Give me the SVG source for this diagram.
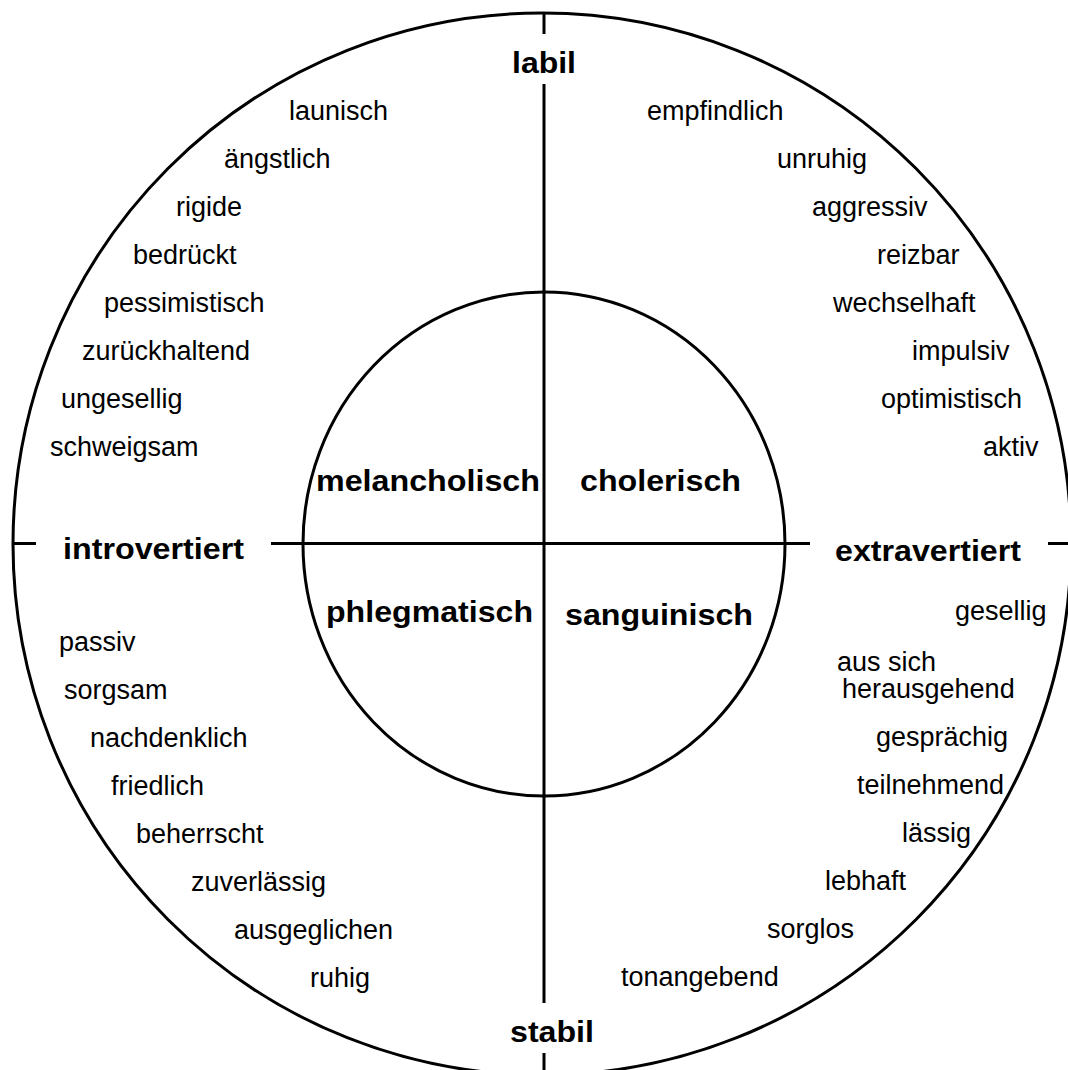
<svg xmlns="http://www.w3.org/2000/svg" width="1068" height="1070" viewBox="0 0 1068 1070">
  <style>
    .ring { fill: none; stroke: #000; stroke-width: 3; }
    .axis { stroke: #000; stroke-width: 3; fill: none; }
    .trait { font-family: "Liberation Sans", Arial, sans-serif; font-size: 27px; fill: #000; }
    .pole { font-family: "Liberation Sans", Arial, sans-serif; font-size: 30px; font-weight: bold; fill: #000; }
    .temper { font-family: "Liberation Sans", Arial, sans-serif; font-size: 30px; font-weight: bold; fill: #000; }
  </style>
  <rect width="1068" height="1070" fill="#fff"/>

  <!-- outer and inner rings -->
  <g id="rings">
    <ellipse class="ring" cx="542" cy="544" rx="529" ry="531"/>
    <ellipse class="ring" cx="544" cy="544" rx="241" ry="252"/>
  </g>

  <!-- axes, broken where the pole labels sit -->
  <g id="connectors">
    <line class="axis" x1="544" y1="13" x2="544" y2="34"/>
    <line class="axis" x1="544" y1="84" x2="544" y2="1003"/>
    <line class="axis" x1="544" y1="1053" x2="544" y2="1070"/>
    <line class="axis" x1="13" y1="543.5" x2="36" y2="543.5"/>
    <line class="axis" x1="271" y1="543.5" x2="810" y2="543.5"/>
    <line class="axis" x1="1048" y1="543.5" x2="1068" y2="543.5"/>
  </g>

  <!-- pole labels -->
  <g id="pole-labil"><text class="pole" x="544" y="73" text-anchor="middle" textLength="64" lengthAdjust="spacingAndGlyphs">labil</text></g>
  <g id="pole-stabil"><text class="pole" x="552" y="1042" text-anchor="middle" textLength="84" lengthAdjust="spacingAndGlyphs">stabil</text></g>
  <g id="pole-introvertiert"><text class="pole" x="63" y="559" textLength="181" lengthAdjust="spacingAndGlyphs">introvertiert</text></g>
  <g id="pole-extravertiert"><text class="pole" x="835" y="560.5" textLength="186" lengthAdjust="spacingAndGlyphs">extravertiert</text></g>

  <!-- temperaments -->
  <g id="melancholisch"><text class="temper" x="316" y="491" textLength="224" lengthAdjust="spacingAndGlyphs">melancholisch</text></g>
  <g id="cholerisch"><text class="temper" x="580" y="491" textLength="161" lengthAdjust="spacingAndGlyphs">cholerisch</text></g>
  <g id="phlegmatisch"><text class="temper" x="326" y="622" textLength="207" lengthAdjust="spacingAndGlyphs">phlegmatisch</text></g>
  <g id="sanguinisch"><text class="temper" x="565" y="625" textLength="188" lengthAdjust="spacingAndGlyphs">sanguinisch</text></g>

  <!-- traits, upper left -->
  <g id="traits-melancholisch" class="trait">
    <text x="289" y="120">launisch</text>
    <text x="224" y="168">ängstlich</text>
    <text x="176" y="216">rigide</text>
    <text x="133" y="264">bedrückt</text>
    <text x="104" y="312">pessimistisch</text>
    <text x="82" y="360">zurückhaltend</text>
    <text x="61" y="408">ungesellig</text>
    <text x="50" y="456">schweigsam</text>
  </g>

  <!-- traits, upper right -->
  <g id="traits-cholerisch" class="trait">
    <text x="647" y="120">empfindlich</text>
    <text x="777" y="168">unruhig</text>
    <text x="812" y="216">aggressiv</text>
    <text x="877" y="264">reizbar</text>
    <text x="833" y="312">wechselhaft</text>
    <text x="912" y="360">impulsiv</text>
    <text x="881" y="408">optimistisch</text>
    <text x="983" y="456">aktiv</text>
  </g>

  <!-- traits, lower left -->
  <g id="traits-phlegmatisch" class="trait">
    <text x="59" y="651">passiv</text>
    <text x="64" y="699">sorgsam</text>
    <text x="90" y="747">nachdenklich</text>
    <text x="111" y="795">friedlich</text>
    <text x="136" y="843">beherrscht</text>
    <text x="191" y="891">zuverlässig</text>
    <text x="234" y="939">ausgeglichen</text>
    <text x="310" y="987">ruhig</text>
  </g>

  <!-- traits, lower right -->
  <g id="traits-sanguinisch" class="trait">
    <text x="955" y="620">gesellig</text>
    <text x="837" y="671">aus sich</text>
    <text x="842" y="698">herausgehend</text>
    <text x="876" y="746">gesprächig</text>
    <text x="857" y="794">teilnehmend</text>
    <text x="902" y="842">lässig</text>
    <text x="825" y="890">lebhaft</text>
    <text x="767" y="938">sorglos</text>
    <text x="621" y="986">tonangebend</text>
  </g>
</svg>
